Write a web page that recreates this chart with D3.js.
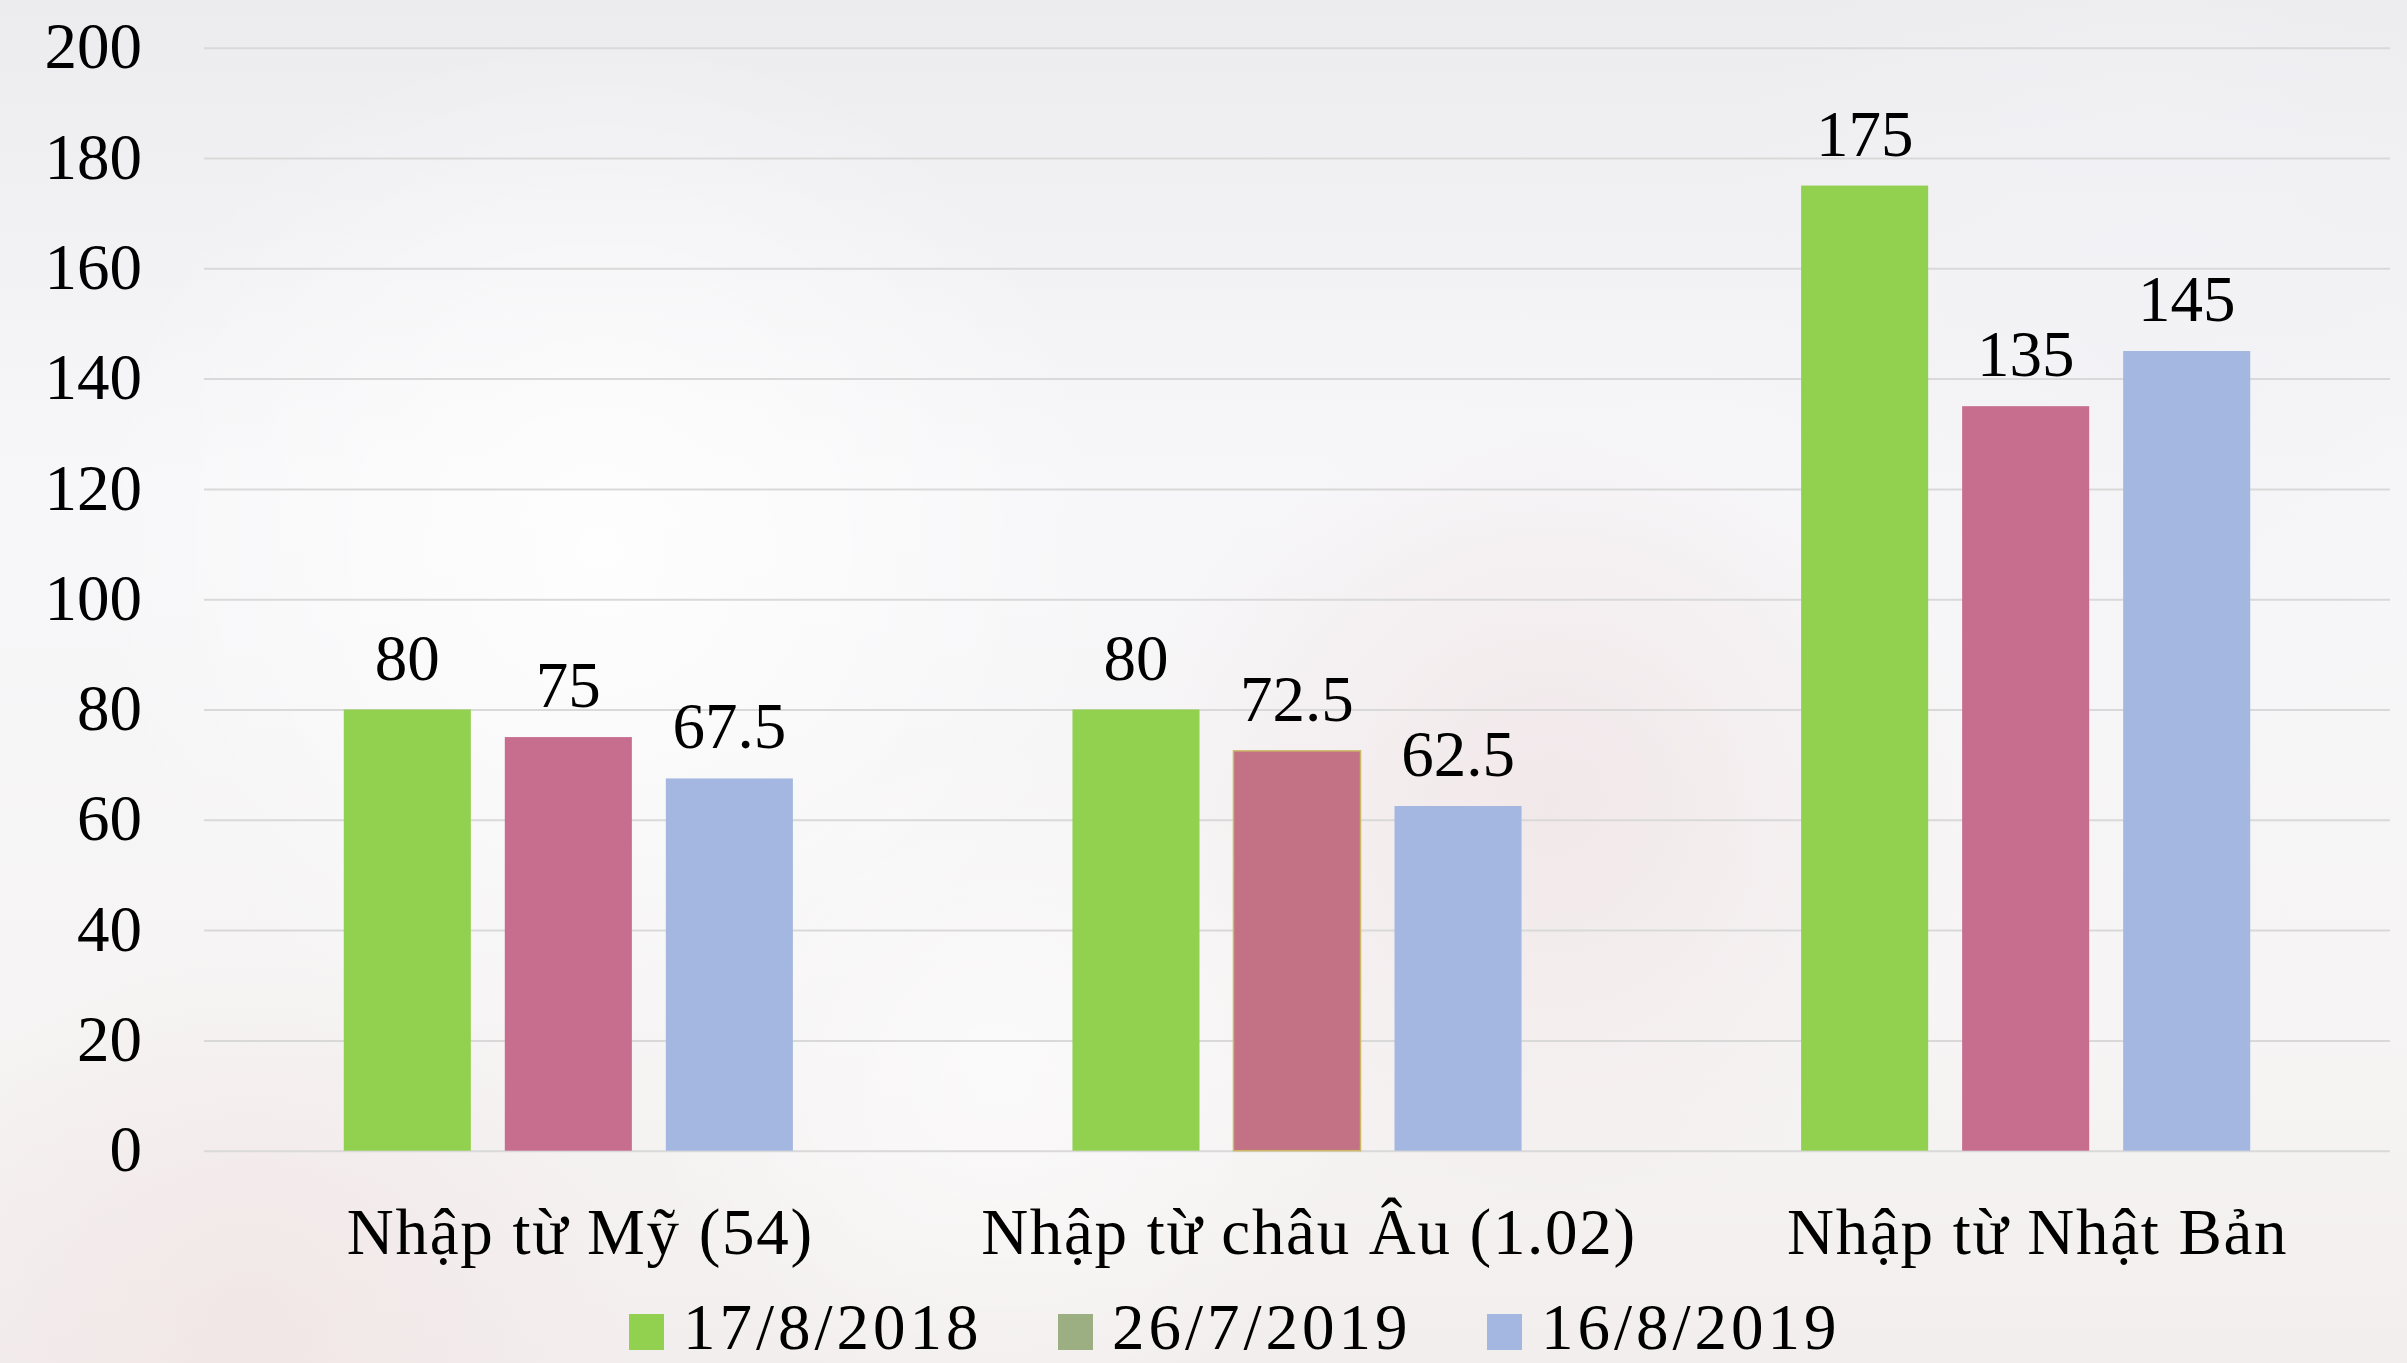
<!DOCTYPE html>
<html>
<head>
<meta charset="utf-8">
<script src="https://cdn.jsdelivr.net/npm/d3@7"></script>
<style>
  html, body { margin: 0; padding: 0; background: #f7f7f8; }
  svg { display: block; }
</style>
</head>
<body>
<div id="chart"></div>
<script>
const width = 2407,
    height = 1363
const margin = {
    top: 47.7,
    right: 17,
    bottom: 212.3,
    left: 204
}

// du lieu
const categories = ['Nhập từ Mỹ (54)', 'Nhập từ châu Âu (1.02)', 'Nhập từ Nhật Bản']
const seriesNames = ['17/8/2018', '26/7/2019', '16/8/2019']
const values2018_08_17 = [80, 80, 175]
const values2019_07_26 = [75, 72.5, 135]
const values2019_08_16 = [67.5, 62.5, 145]
const yTicks = [0, 20, 40, 60, 80, 100, 120, 140, 160, 180, 200]

const barColor = ['#92d050', '#c76d8d', '#a4b7e0']
const legendColor = ['#92d050', '#9caf82', '#a4b7e0']
const fontFamily = '"Liberation Serif", "DejaVu Serif", serif'

const seriesValues = [values2018_08_17, values2019_07_26, values2019_08_16]
const rows = categories.map(function (c, i) {
    const row = { category: c }
    seriesNames.forEach(function (s, j) { row[s] = seriesValues[j][i] })
    return row
})

const svg = d3.select('#chart')
    .append('svg')
    .attr('width', width)
    .attr('height', height)

/**
 * nen mo
 */
const defs = svg.append('defs')
const bgLinear = defs.append('linearGradient')
    .attr('id', 'bgLinear').attr('x1', 0).attr('y1', 0).attr('x2', 0).attr('y2', 1)
bgLinear.append('stop').attr('offset', '0%').attr('stop-color', '#ececef')
bgLinear.append('stop').attr('offset', '35%').attr('stop-color', '#f7f7f9')
bgLinear.append('stop').attr('offset', '75%').attr('stop-color', '#f6f4f4')
bgLinear.append('stop').attr('offset', '100%').attr('stop-color', '#f3eeee')

const blobs = [
    { id: 'b1', cx: 600, cy: 550, r: 520, color: '#ffffff', op: 0.85 },
    { id: 'b2', cx: 1550, cy: 800, r: 420, color: '#efe2e4', op: 0.7 },
    { id: 'b3', cx: 250, cy: 1330, r: 380, color: '#f1e3e3', op: 0.7 },
    { id: 'b4', cx: 2150, cy: 300, r: 450, color: '#f2f2f6', op: 0.8 },
    { id: 'b5', cx: 1000, cy: 1080, r: 360, color: '#ffffff', op: 0.6 }
]
blobs.forEach(function (b) {
    const g = defs.append('radialGradient').attr('id', b.id)
    g.append('stop').attr('offset', '0%').attr('stop-color', b.color).attr('stop-opacity', b.op)
    g.append('stop').attr('offset', '100%').attr('stop-color', b.color).attr('stop-opacity', 0)
})
svg.append('rect').attr('width', width).attr('height', height).attr('fill', 'url(#bgLinear)')
svg.selectAll('circle.blob')
    .data(blobs)
    .enter().append('circle')
    .attr('class', 'blob')
    .attr('cx', function (d) { return d.cx })
    .attr('cy', function (d) { return d.cy })
    .attr('r', function (d) { return d.r })
    .attr('fill', function (d) { return 'url(#' + d.id + ')' })

/**
 * truc
 */
const x0 = d3.scaleBand()
    .domain(categories)
    .range([margin.left, width - margin.right])
    .padding(0)

const x1 = d3.scaleBand()
    .domain(seriesNames)
    .range([0, x0.bandwidth()])
    .paddingInner(0.211)
    .paddingOuter(0.868)

const y = d3.scaleLinear()
    .domain([0, 200])
    .range([height - margin.bottom, margin.top])

// luoi ngang
svg.append('g')
    .attr('transform', 'translate(' + margin.left + ',0)')
    .call(d3.axisLeft(y).tickValues(yTicks).tickSize(-(width - margin.left - margin.right)).tickFormat(''))
    .call(function (g) { g.select('.domain').remove() })
    .selectAll('line')
    .attr('stroke', '#d9d9d9')
    .attr('stroke-width', 2)

// nhan truc y
svg.append('g')
    .attr('transform', 'translate(142,0)')
    .call(d3.axisLeft(y).tickValues(yTicks).tickSize(0).tickPadding(0))
    .call(function (g) { g.select('.domain').remove() })
    .selectAll('text')
    .attr('fill', '#000')
    .attr('font-family', fontFamily)
    .attr('font-size', 65)
    .attr('dy', '0.31em')

/**
 * cot
 */
const groups = svg.append('g')
    .selectAll('g')
    .data(rows)
    .enter().append('g')
    .attr('transform', function (d) { return 'translate(' + x0(d.category) + ',0)' })

const bars = groups.selectAll('rect')
    .data(function (d) {
        return seriesNames.map(function (s, j) {
            return { key: s, idx: j, value: d[s], category: d.category }
        })
    })
    .enter()

bars.append('rect')
    .attr('x', function (d) { return x1(d.key) })
    .attr('y', function (d) { return y(d.value) })
    .attr('width', x1.bandwidth())
    .attr('height', function (d) { return y(0) - y(d.value) })
    .attr('fill', function (d) {
        // cot chau Au 26/7 hoi khac mau, co vien vang
        if (d.idx === 1 && d.category === categories[1]) return '#c27284'
        return barColor[d.idx]
    })
    .attr('stroke', function (d) {
        return (d.idx === 1 && d.category === categories[1]) ? '#cdb866' : 'none'
    })
    .attr('stroke-width', 1.5)

bars.append('text')
    .attr('x', function (d) { return x1(d.key) + x1.bandwidth() / 2 })
    .attr('y', function (d) { return y(d.value) - 30 })
    .attr('text-anchor', 'middle')
    .attr('font-family', fontFamily)
    .attr('font-size', 65)
    .attr('fill', '#000')
    .text(function (d) { return d.value })

// nhan nhom
svg.append('g')
    .selectAll('text')
    .data(categories)
    .enter().append('text')
    .attr('x', function (d) { return x0(d) + x0.bandwidth() / 2 + 12 })
    .attr('y', 1254)
    .attr('text-anchor', 'middle')
    .attr('font-family', fontFamily)
    .attr('font-size', 65)
    .attr('letter-spacing', 1.7)
    .attr('fill', '#000')
    .text(function (d) { return d })

/**
 * chu thich
 */
const legend = svg.append('g')
    .selectAll('g')
    .data(seriesNames)
    .enter().append('g')
    .attr('transform', function (d, i) { return 'translate(' + (629 + i * 429) + ',1314)' })

legend.append('rect')
    .attr('width', 35)
    .attr('height', 36)
    .attr('fill', function (d, i) { return legendColor[i] })

legend.append('text')
    .attr('x', 54)
    .attr('y', 35)
    .attr('font-family', fontFamily)
    .attr('font-size', 65)
    .attr('letter-spacing', 4)
    .attr('fill', '#000')
    .text(function (d) { return d })
</script>
</body>
</html>
